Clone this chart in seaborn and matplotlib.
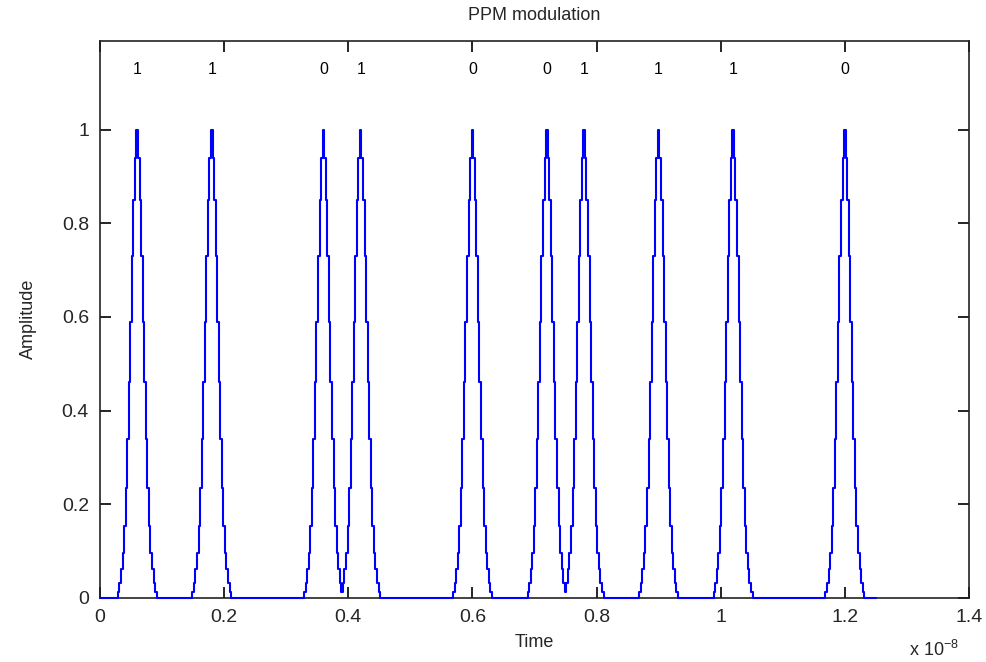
import numpy as np
import pandas as pd
import matplotlib
matplotlib.use("Agg")
import matplotlib.pyplot as plt
import seaborn as sns

# ---- data ----
bits = [1, 1, 0, 1, 0, 0, 1, 1, 1, 0]
pulse_centers = [0.06, 0.18, 0.36, 0.42, 0.60, 0.72, 0.78, 0.90, 1.02, 1.20]   # x 1e-8 s
# half pulse profile (edge -> peak), sampled every dt
half_profile = [0.0, 0.013, 0.032, 0.061, 0.095, 0.154, 0.235, 0.34, 0.46, 0.59, 0.73, 0.85, 0.94, 1.0]
dt = 0.0025        # sample spacing, x 1e-8 s
t_end = 1.25       # end of the signal, x 1e-8 s
x_ticks = [0, 0.2, 0.4, 0.6, 0.8, 1, 1.2, 1.4]
x_ticklabels = ["0", "0.2", "0.4", "0.6", "0.8", "1", "1.2", "1.4"]
y_ticks = [0, 0.2, 0.4, 0.6, 0.8, 1]
y_ticklabels = ["0", "0.2", "0.4", "0.6", "0.8", "1"]

# ---- build waveform from the pulse list ----
profile = np.array(half_profile + half_profile[-2::-1])
n_half = len(half_profile) - 1
n = int(round(t_end / dt)) + 1
t = np.arange(n) * dt
sig = np.zeros(n)
for c in pulse_centers:
    i = int(round(c / dt))
    lo, hi = i - n_half, i + n_half + 1
    sig[lo:hi] = np.maximum(sig[lo:hi], profile)
df = pd.DataFrame({"Time": t, "Amplitude": sig})

sns.set_style("ticks")
plt.rcParams["font.family"] = ["Liberation Sans", "DejaVu Sans"]
plt.rcParams["xtick.direction"] = "in"
plt.rcParams["ytick.direction"] = "in"

fig = plt.figure(figsize=(9.87, 6.62), dpi=100)
fig.patch.set_facecolor("white")
ax = fig.add_axes([100 / 987, 64 / 662, 869 / 987, 557.5 / 662])
sns.lineplot(data=df, x="Time", y="Amplitude", ax=ax, color="#0000FF",
             linewidth=1.5, estimator=None, sort=False, drawstyle="steps-mid",
             zorder=3, clip_on=False)

for c, b in zip(pulse_centers, bits):
    ax.text(c, 1.128, str(b), ha="center", va="center", fontsize=11.5, color="black")

ax.set_xlim(0, 1.4)
ax.set_ylim(0, 1.19)
ax.set_xticks(x_ticks)
ax.set_xticklabels(x_ticklabels, fontsize=14)
ax.set_yticks(y_ticks)
ax.set_yticklabels(y_ticklabels, fontsize=14)
ax.tick_params(axis="both", which="both", direction="in", length=8, width=1.2,
               top=True, right=True, color="black")
ax.tick_params(axis="x", pad=8)
ax.tick_params(axis="y", pad=8)
for s in ax.spines.values():
    s.set_visible(True)
    s.set_color("#222222")
    s.set_linewidth(1.2)
    s.set_zorder(2)
ax.set_xlabel("Time", fontsize=13, labelpad=6)
ax.set_ylabel("Amplitude", fontsize=13, labelpad=18)
ax.set_title("PPM modulation", fontsize=13, pad=15)
fig.text(934 / 987, 1 - 650 / 662, r"x 10$^{\mathregular{-8}}$", ha="center", va="center", fontsize=13)

fig.savefig("out.png", dpi=100, facecolor="white")
